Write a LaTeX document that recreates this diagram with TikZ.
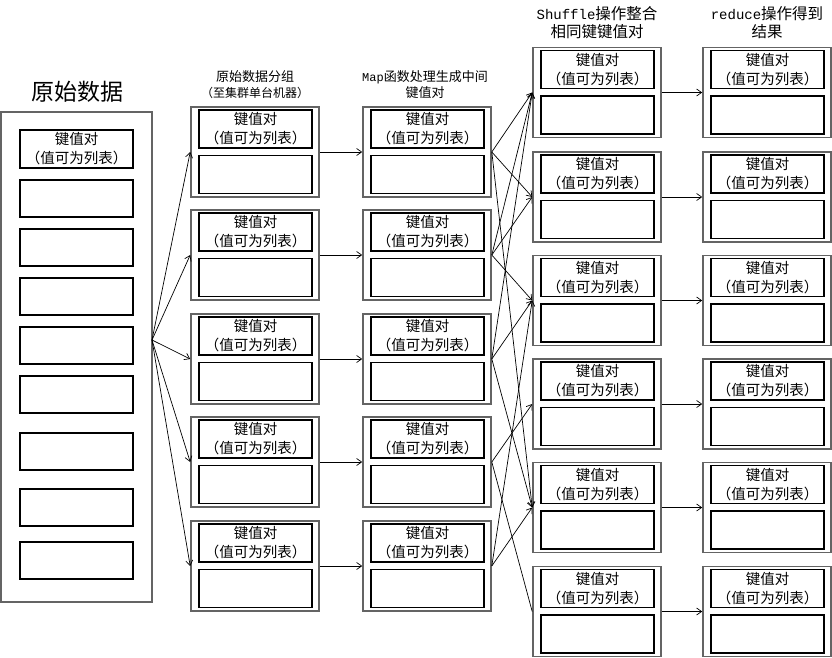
\documentclass[tikz,border=0pt]{standalone}
\usepackage{fontspec}
\setmainfont{Noto Sans CJK SC}
\setmonofont{Liberation Mono}
\usetikzlibrary{arrows.meta}
\begin{document}
\begin{tikzpicture}[x=1pt,y=-1pt,
  outerbox/.style={draw={rgb,255:red,100;green,100;blue,100}, line width=1.6pt, minimum width=128pt, inner sep=0pt},
  innerbox/.style={draw=black, line width=1.2pt, minimum width=113pt, minimum height=38pt, inner sep=0pt, align=center, font=\fontsize{14.5}{19}\selectfont},
  arr/.style={-{Straight Barb[length=5pt,width=7pt]}, line width=0.7pt},
  plainline/.style={line width=0.7pt},
  lbl/.style={align=center, inner sep=0pt}]
\useasboundingbox (0,0) rectangle (832,658);

% titles
\node[lbl, font=\fontsize{23}{26}\selectfont] (traw) at (77,92) {原始数据};
\node[lbl, font=\fontsize{13}{16}\selectfont] (tgrp) at (255,85) {原始数据分组\\\fontsize{12}{16}\selectfont（至集群单台机器）};
\node[lbl, font=\fontsize{13}{16}\selectfont] (tmap) at (425,85) {{\fontsize{12}{16}\selectfont\ttfamily Map}函数处理生成中间\\键值对};
\node[lbl, font=\fontsize{15.5}{18}\selectfont] (tshf) at (597,23) {{\fontsize{14}{18}\selectfont\ttfamily Shuffle}操作整合\\相同键键值对};
\node[lbl, font=\fontsize{15.5}{18}\selectfont] (tred) at (767,23) {{\fontsize{14}{18}\selectfont\ttfamily reduce}操作得到\\结果};

% raw data column
\node[outerbox, minimum width=151pt, minimum height=490pt] (raw) at (76.5,357) {};
\node[innerbox] (raw0) at (76.5,149) {键值对\\（值可为列表）};
\foreach \k/\y in {1/198.5,2/247.5,3/296.5,4/345.5,5/394.5,6/451.5,7/507.5,8/560.5}
  \node[innerbox, minimum height=37pt] (raw\k) at (76.5,\y) {};

% grouped and map columns
\foreach \i/\y in {1/152,2/255,3/359,4/462,5/566} {
  \node[outerbox, minimum height=90pt] (g\i) at (255,\y) {};
  \node[innerbox] (g\i t) at (255.5,\y-23) {键值对\\（值可为列表）};
  \node[innerbox] (g\i b) at (255.5,\y+22.5) {};
  \node[outerbox, minimum height=90pt] (m\i) at (427,\y) {};
  \node[innerbox] (m\i t) at (427.5,\y-23) {键值对\\（值可为列表）};
  \node[innerbox] (m\i b) at (427.5,\y+22.5) {};
}

% shuffle and reduce columns
\foreach \i/\y in {1/92.5,2/197,3/300.5,4/404,5/507.5,6/611.5} {
  \node[outerbox, minimum height=90pt] (s\i) at (597,\y) {};
  \node[innerbox] (s\i t) at (597.5,\y-23) {键值对\\（值可为列表）};
  \node[innerbox] (s\i b) at (597.5,\y+22.5) {};
  \node[outerbox, minimum height=90pt] (r\i) at (767,\y) {};
  \node[innerbox] (r\i t) at (767.5,\y-23) {键值对\\（值可为列表）};
  \node[innerbox] (r\i b) at (767.5,\y+22.5) {};
}

% connectors
\coordinate (fan) at (152,340);
\foreach \i in {1,...,5} \draw[arr] (fan) -- (g\i.west);
\foreach \i in {1,...,5} \draw[arr] (g\i.east) -- (m\i.west);
\foreach \i/\j in {1/1,1/2,1/5,2/1,2/2,2/3,3/1,3/3,3/5,4/4,5/3,5/5}
  \draw[arr] (m\i.east) -- (s\j.west);
\draw[plainline] (m4.east) -- (s6.west);
\foreach \i in {1,...,6} \draw[arr] (s\i.east) -- (r\i.west);
\end{tikzpicture}
\end{document}
